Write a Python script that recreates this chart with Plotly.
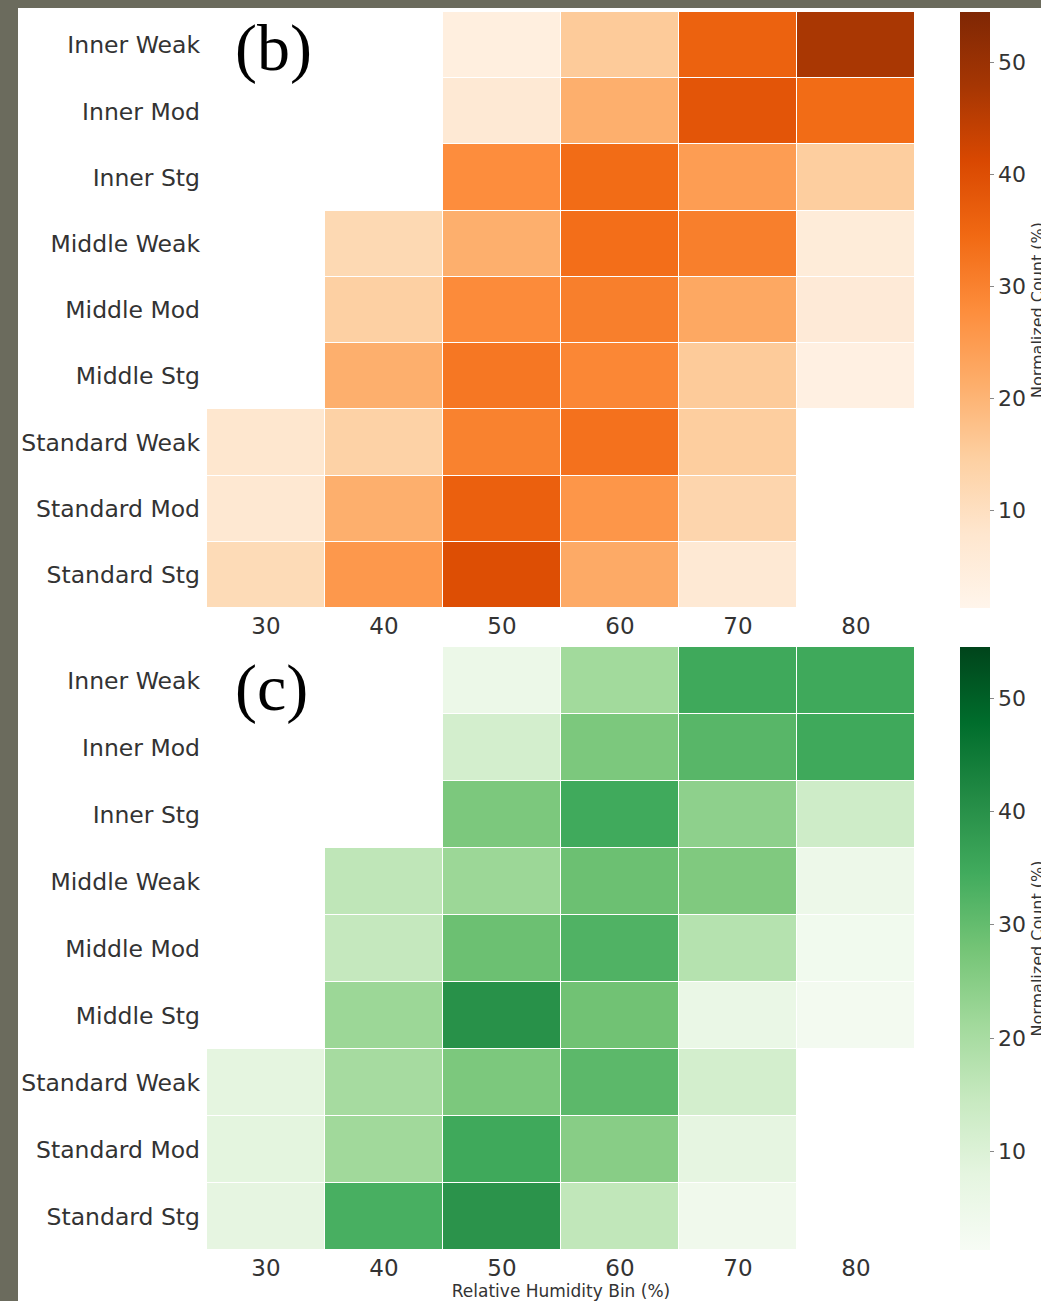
import plotly.graph_objects as go

rh_bins = [30, 40, 50, 60, 70, 80]
categories = ["Inner Weak", "Inner Mod", "Inner Stg",
              "Middle Weak", "Middle Mod", "Middle Stg",
              "Standard Weak", "Standard Mod", "Standard Stg"]

# panel (b): normalized count (%)
vals_b = [
    [None, None, 4.0, 15.6, 36.0, 47.5],
    [None, None, 6.6, 21.0, 38.5, 34.0],
    [None, None, 27.8, 34.0, 24.6, 15.0],
    [None, 12.0, 21.0, 33.6, 30.5, 5.5],
    [None, 14.5, 28.3, 30.5, 22.5, 6.0],
    [None, 21.0, 32.0, 29.0, 15.6, 3.4],
    [7.7, 14.0, 30.0, 33.0, 15.0, None],
    [7.0, 21.0, 36.3, 26.0, 13.0, None],
    [11.4, 25.7, 40.0, 22.0, 6.6, None],
]

# panel (c): normalized count (%)
vals_c = [
    [None, None, 5.5, 21.0, 35.0, 35.0],
    [None, None, 12.0, 26.7, 31.5, 35.0],
    [None, None, 26.7, 34.7, 24.0, 13.0],
    [None, 16.0, 22.0, 29.0, 26.2, 5.0],
    [None, 15.0, 29.0, 32.6, 17.7, 3.4],
    [None, 22.0, 40.0, 28.3, 6.0, 2.9],
    [8.0, 20.4, 26.7, 31.0, 12.0, None],
    [8.2, 21.2, 35.0, 25.0, 7.7, None],
    [7.7, 33.6, 39.5, 15.6, 4.0, None],
]

cbar_ticks = [10, 20, 30, 40, 50]
ZMIN, ZMAX = 1.3, 54.5

W, H = 1041, 1301
L, R, T, B = 207, 1041 - 915, 12, 1301 - 1250
PW, PH = W - L - R, H - T - B


def py(pix):
    return (H - B - pix) / PH


def px(pix):
    return (pix - L) / PW


dom_b = [py(608), py(12)]
dom_c = [py(1250), py(647)]

font_main = "DejaVu Sans"
txt_col = "#333333"


def cbar(dom):
    return dict(
        x=px(960), xanchor="left", xpad=0, ypad=0,
        y=(dom[0] + dom[1]) / 2, yanchor="middle",
        len=dom[1] - dom[0], lenmode="fraction",
        thickness=30, outlinewidth=0,
        tickvals=cbar_ticks, ticks="outside", ticklen=4,
        tickcolor="#888888",
        tickfont=dict(family=font_main, size=22, color=txt_col),
        title=dict(text="Normalized Count (%)", side="right",
                   font=dict(family=font_main, size=16, color=txt_col)),
    )


fig = go.Figure()
fig.add_trace(go.Heatmap(
    x=rh_bins, y=categories, z=vals_b, colorscale="Oranges",
    zmin=ZMIN, zmax=ZMAX, xgap=1, ygap=1, hoverongaps=False,
    colorbar=cbar(dom_b), xaxis="x", yaxis="y"))
fig.add_trace(go.Heatmap(
    x=rh_bins, y=categories, z=vals_c, colorscale="Greens",
    zmin=ZMIN, zmax=ZMAX, xgap=1, ygap=1, hoverongaps=False,
    colorbar=cbar(dom_c), xaxis="x2", yaxis="y2"))

axis_common = dict(showgrid=False, zeroline=False, showline=False, ticks="")
ytick_font = dict(family=font_main, size=23.5, color=txt_col)
xtick_font = dict(family=font_main, size=23, color=txt_col)

fig.update_layout(
    width=W, height=H,
    margin=dict(l=L, r=R, t=T, b=B, autoexpand=False),
    paper_bgcolor="#6b6b5d", plot_bgcolor="white",
    xaxis=dict(domain=[0, 1], anchor="y", tickvals=rh_bins, ticklabelstandoff=2,
               tickfont=xtick_font, **axis_common),
    yaxis=dict(domain=dom_b, anchor="x", autorange="reversed",
               ticklabelstandoff=6, tickfont=ytick_font, **axis_common),
    xaxis2=dict(domain=[0, 1], anchor="y2", tickvals=rh_bins, ticklabelstandoff=2,
                tickfont=xtick_font,
                title=dict(text="Relative Humidity Bin (%)", standoff=0,
                           font=dict(family=font_main, size=17, color=txt_col)),
                **axis_common),
    yaxis2=dict(domain=dom_c, anchor="x2", autorange="reversed",
                ticklabelstandoff=6, tickfont=ytick_font, **axis_common),
    shapes=[dict(type="rect", xref="paper", yref="paper",
                 x0=px(18), x1=px(1045), y0=py(1305), y1=py(8),
                 fillcolor="white", line=dict(width=0), layer="below")],
    annotations=[
        dict(text="(b)", xref="paper", yref="paper", x=px(233), y=py(9),
             xanchor="left", yanchor="top", showarrow=False,
             font=dict(family="Liberation Serif", size=66, color="black")),
        dict(text="(c)", xref="paper", yref="paper", x=px(233), y=py(649),
             xanchor="left", yanchor="top", showarrow=False,
             font=dict(family="Liberation Serif", size=66, color="black")),
    ],
)

fig.write_html("out.html")
